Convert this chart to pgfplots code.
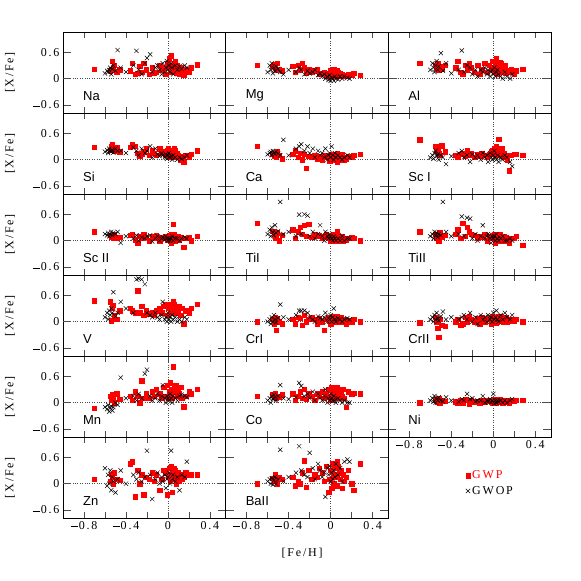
\documentclass[border=0pt]{standalone}
\usepackage{fontspec}
\setsansfont{Liberation Sans}
\newfontfamily\pg{Liberation Serif}[LetterSpace=15]
\usepackage{pgfplots}
\usepackage{pgfplotstable}
\pgfplotsset{compat=1.18}

% GWP stars (with planets)
\pgfplotstableread{
feh Na Mg Al Si Ca ScI ScII TiI TiII V CrI CrII Mn Co Ni Zn BaII
-0.70 0.22 0.30 0.35 0.28 0.30 0.45 0.20 0.40 0.20 0.48 0.00 -0.02 -0.13 0.15 0.00 0.10 0.00
-0.55 0.18 0.28 0.30 0.22 0.12 0.30 0.12 0.22 0.15 0.45 0.05 0.10 0.15 0.18 0.05 0.05 0.12
-0.54 0.22 0.32 0.25 0.30 0.08 0.25 0.08 0.15 0.05 0.02 -0.05 0.00 0.05 0.12 0.08 0.22 0.05
-0.53 0.40 0.25 0.35 0.35 0.15 0.20 0.10 0.05 0.10 0.32 0.10 -0.15 0.18 0.20 0.02 0.15 0.20
-0.52 0.25 0.20 0.20 0.25 0.05 0.15 0.05 0.10 0.00 0.38 -0.20 -0.35 0.10 0.10 0.10 0.00 0.08
-0.51 0.30 0.35 0.28 0.20 0.18 0.10 0.15 0.18 0.18 0.15 0.08 0.05 0.00 0.15 0.00 0.25 0.00
-0.49 0.15 0.22 0.22 0.28 0.10 0.32 0.06 0.00 0.08 0.05 0.00 -0.08 0.20 0.12 0.06 0.10 0.15
-0.46 0.20 0.18 0.30 0.18 0.02 0.18 0.08 0.12 0.12 0.25 -0.05 -0.10 0.08 0.18 0.04 0.08 0.10
-0.36 0.18 0.28 0.25 0.28 0.12 0.10 0.12 0.25 0.15 0.30 0.05 0.00 0.15 0.20 0.02 0.45 0.15
-0.34 0.35 0.15 0.40 0.35 0.20 0.05 0.15 0.05 0.25 0.25 -0.05 0.05 0.05 0.05 0.00 0.50 -0.05
-0.31 0.10 0.30 0.15 0.30 0.05 0.12 0.02 0.20 0.05 0.20 0.10 -0.08 0.25 0.15 0.05 -0.30 0.05
-0.29 0.12 0.20 0.10 0.15 0.15 0.15 -0.05 0.30 0.40 0.70 0.08 -0.05 0.15 0.25 0.00 0.30 0.00
-0.27 0.28 0.35 0.30 0.08 0.00 0.08 0.10 0.15 0.10 0.20 -0.08 0.10 0.00 0.10 0.08 0.00 0.25
-0.25 0.15 0.25 0.20 0.12 0.12 0.20 0.05 0.35 0.30 0.35 0.15 0.00 0.50 0.30 0.05 0.20 0.52
-0.23 0.35 0.12 0.35 0.18 -0.20 0.10 0.15 0.10 0.20 0.15 0.00 0.12 0.10 0.08 -0.02 -0.25 -0.08
-0.21 0.20 0.22 0.25 0.25 0.08 0.15 0.08 0.38 0.15 0.25 0.05 0.05 0.20 0.20 0.06 0.15 0.30
-0.18 0.10 0.15 0.15 0.10 0.05 0.05 0.00 0.08 0.12 0.18 0.10 0.00 0.10 0.15 0.02 0.10 0.10
-0.15 0.25 0.18 0.30 0.20 0.10 0.12 0.10 0.15 0.05 0.20 0.05 0.08 0.25 0.05 0.04 0.25 0.20
-0.13 0.12 0.20 0.10 0.15 0.02 0.08 0.05 0.10 0.10 0.15 -0.05 -0.05 0.15 0.20 0.00 0.05 0.15
-0.11 0.15 0.10 0.20 0.10 0.08 0.15 0.12 0.12 0.08 0.25 0.08 0.10 0.30 0.15 0.05 0.20 0.35
-0.08 0.30 0.12 0.35 0.25 0.00 0.10 0.00 0.05 0.15 0.30 0.00 0.00 0.20 0.25 0.02 -0.15 0.25
-0.06 0.20 0.15 0.15 0.15 0.10 0.05 0.08 0.10 0.00 0.20 -0.20 0.05 0.10 0.10 0.06 0.10 0.05
-0.04 0.25 0.08 0.30 0.18 0.05 0.12 0.05 0.15 0.10 0.35 0.05 0.08 0.35 0.20 0.03 0.30 0.40
-0.02 0.10 0.12 0.25 0.10 0.10 0.18 0.10 0.05 0.05 0.40 0.10 -0.05 0.15 0.30 0.05 0.25 -0.20
-0.01 0.35 0.05 0.40 0.20 -0.02 0.20 0.02 0.10 0.12 0.15 0.02 0.12 0.40 0.15 0.00 -0.25 0.10
0.00 0.28 0.18 0.20 0.25 0.08 0.15 0.05 0.00 0.08 0.30 -0.05 0.02 0.10 0.05 0.08 0.15 0.30
0.01 0.45 0.10 0.15 0.05 0.12 0.25 0.12 0.08 0.15 0.40 0.08 0.05 0.25 0.35 0.02 0.35 -0.10
0.02 0.20 0.15 0.35 0.15 0.00 0.10 0.08 0.12 -0.05 0.25 0.05 0.10 0.45 0.25 0.06 0.05 0.45
0.03 0.52 0.08 0.45 0.22 0.05 0.30 -0.05 0.05 0.10 0.35 0.12 -0.02 0.20 0.10 0.04 0.20 0.20
0.03 0.15 0.20 0.25 0.10 0.10 0.15 0.15 0.15 0.05 0.20 0.00 0.08 0.30 0.30 0.00 0.40 0.00
0.04 0.30 0.12 0.10 0.18 0.08 0.20 0.10 0.00 0.12 0.30 0.08 0.00 0.10 0.20 0.05 -0.20 0.35
0.05 0.25 0.05 0.30 0.12 0.12 0.47 0.38 0.10 0.00 0.45 0.05 0.12 0.82 0.15 0.08 0.25 0.15
0.06 0.18 0.10 0.20 0.08 -0.05 0.10 0.05 0.05 0.08 0.25 0.10 0.05 0.35 0.25 0.02 0.10 -0.05
0.07 0.40 0.15 0.35 0.20 0.10 0.12 0.00 0.12 0.10 0.35 0.00 0.10 0.25 0.30 0.06 0.30 0.40
0.08 0.12 0.08 0.15 0.05 0.05 0.25 0.08 0.00 0.05 0.20 0.08 0.02 0.40 0.10 0.04 0.00 0.25
0.09 0.30 0.12 0.25 0.15 0.00 0.08 0.05 0.08 0.00 0.30 0.05 0.08 0.15 0.20 0.00 0.15 0.10
0.10 0.22 0.05 0.20 0.10 0.08 0.15 0.10 0.05 0.10 0.25 0.10 0.00 0.30 0.25 0.05 0.25 0.30
0.11 0.10 0.10 0.30 0.05 0.12 0.05 0.02 0.10 0.05 0.35 0.00 0.05 0.20 0.15 0.03 0.05 -0.10
0.12 0.25 0.08 0.12 0.00 0.05 0.10 0.08 0.00 0.08 0.15 0.05 0.10 0.35 0.30 0.02 0.20 0.20
0.13 0.15 0.05 0.18 0.08 0.00 0.00 0.05 0.05 0.00 0.30 0.00 0.00 0.10 0.10 0.05 0.10 0.05
0.15 0.08 0.06 0.15 -0.05 0.02 -0.25 -0.15 0.02 -0.05 -0.05 -0.05 0.02 -0.09 -0.10 0.00 0.15 0.15
0.17 0.20 0.10 0.20 0.10 0.08 0.10 0.05 0.05 0.05 0.25 0.02 0.05 0.15 0.25 0.05 0.25 0.30
0.20 0.15 0.08 0.10 0.05 0.05 0.12 0.08 0.08 0.05 0.20 0.00 0.02 0.25 0.20 0.04 0.20 0.00
0.22 0.25 0.12 0.18 0.12 0.10 0.12 0.00 0.05 0.10 0.30 0.05 0.05 0.20 0.22 0.05 0.20 -0.15
0.28 0.32 0.08 0.22 0.20 0.12 0.10 0.10 0.00 -0.10 0.40 0.00 0.00 0.30 0.20 0.05 0.20 0.45
0.06 0.35 0.18 0.38 0.25 0.15 0.20 0.15 0.20 0.15 0.40 0.12 0.12 0.40 0.35 0.08 0.35 0.50
}\gwp

% GWOP stars (without planets)
\pgfplotstableread{
feh Na Mg Al Si Ca ScI ScII TiI TiII V CrI CrII Mn Co Ni Zn BaII
-0.60 0.12 0.15 0.20 0.18 0.12 0.05 0.15 0.15 0.10 0.10 0.00 0.05 -0.10 0.05 0.05 0.35 0.05
-0.58 0.18 0.30 0.35 0.22 0.15 0.10 0.12 0.25 0.15 0.20 0.05 0.10 -0.15 0.10 0.10 -0.05 0.10
-0.57 0.15 0.20 0.25 0.15 0.18 0.02 0.18 0.10 0.05 0.05 -0.05 0.00 -0.05 0.00 0.02 0.20 0.00
-0.56 0.20 0.35 0.15 0.25 0.10 0.15 0.10 0.30 0.20 0.25 0.10 0.15 -0.20 0.15 0.15 0.00 0.12
-0.55 0.25 0.12 0.30 0.20 0.20 0.20 0.15 0.20 0.12 0.15 0.00 0.05 -0.12 0.08 0.00 0.30 -0.02
-0.54 0.10 0.25 0.40 0.18 0.15 0.08 0.20 0.12 0.18 0.30 0.15 0.20 -0.08 0.18 0.08 -0.15 0.08
-0.53 0.22 0.18 0.20 0.22 0.12 0.12 0.12 0.35 0.08 0.20 0.05 0.08 -0.18 0.12 0.05 0.15 0.15
-0.52 0.30 0.28 0.28 0.16 0.18 0.00 0.18 0.18 0.15 0.67 -0.02 0.02 -0.10 0.05 0.12 0.05 0.00
-0.50 0.18 0.22 0.58 0.25 0.14 0.10 0.15 0.22 0.12 0.12 0.08 0.12 0.00 0.15 0.05 -0.20 0.10
-0.48 0.65 0.15 0.18 0.20 0.10 0.05 0.20 0.88 0.88 0.20 0.39 0.23 -0.05 0.40 0.03 0.10 0.77
-0.45 0.25 0.10 0.35 0.20 0.45 -0.10 -0.05 0.15 0.20 0.45 0.10 0.05 0.57 0.10 0.12 0.30 0.05
-0.40 0.15 0.20 0.12 0.15 0.10 0.08 0.10 0.20 0.10 0.30 0.05 0.10 0.10 0.08 0.05 0.00 0.15
-0.33 0.30 0.15 0.20 0.28 0.25 0.15 0.05 0.10 0.15 0.20 0.15 0.05 0.15 0.12 0.02 0.20 0.25
-0.30 0.63 0.25 0.64 0.20 0.30 0.20 0.12 0.59 0.55 0.96 0.25 0.10 0.05 0.45 0.08 0.10 0.85
-0.28 0.20 0.20 0.15 0.10 0.35 0.05 0.00 0.15 0.10 0.98 0.25 0.15 0.20 0.38 0.05 0.25 0.30
-0.25 0.10 0.10 0.30 0.25 0.20 0.10 0.08 0.60 0.52 0.96 0.25 0.05 0.10 0.15 0.20 0.05 0.20
-0.22 0.35 0.18 0.25 0.15 0.30 -0.05 0.05 0.57 0.50 0.85 0.20 0.20 0.66 0.20 0.08 0.15 0.15
-0.20 0.47 0.12 0.10 0.20 0.15 0.12 0.10 0.10 0.05 0.20 0.10 0.00 0.75 0.10 0.10 0.75 0.70
-0.17 0.55 0.15 0.20 0.30 0.25 0.05 0.12 0.20 0.15 0.15 0.05 0.10 0.15 0.25 0.03 0.20 0.35
-0.15 0.15 0.20 0.05 0.05 0.05 0.10 -0.02 0.05 0.00 0.10 0.00 -0.05 0.05 0.05 0.05 -0.35 0.10
-0.12 0.25 0.08 0.20 0.25 0.20 0.00 0.05 0.15 0.10 0.20 0.12 0.15 0.10 0.20 0.05 0.10 0.45
-0.10 0.30 0.12 0.15 0.12 0.10 0.15 0.10 0.35 0.35 0.10 0.08 0.05 0.20 0.10 0.15 0.25 0.30
-0.08 0.20 0.05 0.25 0.08 0.15 0.05 0.00 0.10 0.05 0.05 0.05 0.10 0.05 0.05 0.00 0.00 0.15
-0.06 0.10 0.10 0.10 0.15 0.05 0.10 0.05 0.00 0.10 0.15 0.10 0.00 0.15 0.15 0.05 0.15 0.25
-0.05 0.35 0.00 0.20 0.10 0.25 -0.05 0.08 0.20 0.15 0.45 0.20 0.15 0.40 0.30 0.02 0.05 -0.30
-0.03 0.15 0.05 0.05 0.05 0.00 0.15 0.02 0.10 0.05 0.05 0.00 0.05 0.10 0.00 0.08 0.20 0.35
-0.02 0.25 -0.03 0.15 0.12 0.10 0.05 0.10 0.05 -0.05 0.10 0.08 0.10 0.00 0.10 0.00 -0.10 0.20
-0.01 0.40 0.08 0.20 0.02 0.15 0.00 0.05 0.15 0.10 0.00 0.05 0.00 0.15 0.05 0.05 0.10 0.40
0.00 0.20 -0.05 0.10 0.10 0.05 0.10 0.00 0.10 0.05 0.20 0.15 0.20 0.10 0.20 0.20 0.15 0.05
0.01 0.30 0.02 0.25 0.15 0.30 0.20 0.05 0.05 0.10 0.05 0.00 0.05 0.05 0.10 -0.02 0.25 0.25
0.02 0.15 0.00 0.05 0.05 0.10 0.05 0.00 0.00 0.00 0.10 0.10 0.10 0.20 0.05 0.05 0.00 0.10
0.03 0.35 -0.05 0.15 0.08 0.00 0.00 0.05 0.10 0.15 0.00 0.30 0.25 0.10 0.15 0.00 0.75 0.30
0.04 0.25 0.05 0.20 0.00 0.15 0.10 0.10 0.05 0.05 0.15 0.05 0.05 0.00 0.05 0.05 0.10 0.15
0.05 0.10 0.00 0.10 0.10 0.05 -0.05 0.00 0.00 0.00 0.05 0.00 0.00 0.15 0.00 0.02 0.20 0.45
0.07 0.30 -0.02 0.05 0.05 0.10 0.05 0.05 0.05 0.05 0.10 0.08 0.15 0.10 0.10 0.05 0.05 0.20
0.09 0.20 0.05 0.00 0.00 0.05 0.00 0.05 0.00 0.10 0.00 0.05 0.05 0.05 0.05 0.00 0.15 0.35
0.11 0.28 0.00 0.15 0.05 0.00 0.10 0.00 0.10 0.00 0.05 0.00 0.20 0.15 0.00 0.05 -0.15 0.05
0.13 0.22 0.05 0.05 0.02 0.05 0.05 0.05 0.00 0.00 0.00 0.05 0.10 0.18 0.05 0.00 0.20 0.50
0.16 0.30 0.02 0.00 0.05 0.10 -0.05 0.08 0.05 0.05 0.10 0.08 0.05 0.15 0.00 0.05 0.15 0.55
0.18 0.25 0.00 0.10 0.10 0.05 -0.15 0.05 0.05 0.00 0.05 0.05 0.15 0.12 0.00 0.08 0.50 0.50
}\gwop

\newcommand{\lbl}{\pg\fontsize{12}{14}\selectfont}
\newcommand{\mi}{\rule[0.24em]{0.6em}{0.05em}\hspace{0.08em}}
\pgfplotsset{
  panel/.style={
    scale only axis, width=162.67pt, height=81pt,
    anchor=north west,
    xmin=-1.0, xmax=0.55, ymin=-0.78, ymax=1.06,
    xtick={-0.8,-0.6,-0.4,-0.2,0,0.2,0.4},
    ytick={-0.6,0,0.6},
    xticklabels={,,,,,,}, yticklabels={,,},
    tick align=inside, major tick length=6pt,
    ytick style={/pgfplots/major tick length=8pt},
    axis line style={line width=0.6pt},
    tick style={line width=0.5pt, black!70},
    tick label style={font=\lbl},
    every axis y label/.style={at={(axis description cs:-0.325,0.5)}, rotate=90, anchor=center, font=\lbl},
    every axis x label/.style={at={(axis description cs:0.47,-0.43)}, anchor=center, font=\lbl},
  },
  xlab/.style={xticklabels={\mi0.8,,\mi0.4,,0,,0.4}},
  ylab/.style={yticklabels={\mi0.6,0,0.6}, ylabel={[X/Fe]}},
  gwp/.style={only marks, mark=square*, mark size=2.2pt, color=red},
  gwop/.style={only marks, mark=x, mark size=3pt, color=black, mark options={line width=0.5pt}},
}
\newcommand{\panel}[1]{%
  \draw[dotted, black!70] (axis cs:0,-0.78) -- (axis cs:0,1.06);
  \draw[dotted, black!70] (axis cs:-1,0) -- (axis cs:0.55,0);
  \addplot[gwp] table[x=feh, y=#1] {\gwp};
  \addplot[gwop] table[x=feh, y=#1] {\gwop};
}
\newcommand{\elem}[1]{\node[anchor=west, inner sep=0pt, font=\sffamily\fontsize{13}{15}\selectfont] at (axis cs:-0.81,-0.39) {#1};}

\begin{document}
\begin{tikzpicture}
\path[use as bounding box] (0pt,0pt) rectangle (581pt,-581pt);

% row 1
\begin{axis}[panel, ylab, at={(63pt,-32pt)}]
\panel{Na}\elem{Na}
\end{axis}
\begin{axis}[panel, at={(225.67pt,-32pt)}]
\panel{Mg}\elem{Mg}
\end{axis}
\begin{axis}[panel, at={(388.33pt,-32pt)}]
\panel{Al}\elem{Al}
\end{axis}

% row 2
\begin{axis}[panel, ylab, at={(63pt,-113pt)}]
\panel{Si}\elem{Si}
\end{axis}
\begin{axis}[panel, at={(225.67pt,-113pt)}]
\panel{Ca}\elem{Ca}
\end{axis}
\begin{axis}[panel, at={(388.33pt,-113pt)}]
\panel{ScI}\elem{Sc I}
\end{axis}

% row 3
\begin{axis}[panel, ylab, at={(63pt,-194pt)}]
\panel{ScII}\elem{Sc II}
\end{axis}
\begin{axis}[panel, at={(225.67pt,-194pt)}]
\panel{TiI}\elem{TiI}
\end{axis}
\begin{axis}[panel, at={(388.33pt,-194pt)}]
\panel{TiII}\elem{TiII}
\end{axis}

% row 4
\begin{axis}[panel, ylab, at={(63pt,-275pt)}]
\panel{V}\elem{V}
\end{axis}
\begin{axis}[panel, at={(225.67pt,-275pt)}]
\panel{CrI}\elem{CrI}
\end{axis}
\begin{axis}[panel, at={(388.33pt,-275pt)}]
\panel{CrII}\elem{CrII}
\end{axis}

% row 5
\begin{axis}[panel, ylab, at={(63pt,-356pt)}]
\panel{Mn}\elem{Mn}
\end{axis}
\begin{axis}[panel, at={(225.67pt,-356pt)}]
\panel{Co}\elem{Co}
\end{axis}
\begin{axis}[panel, xlab, at={(388.33pt,-356pt)},
  legend style={at={(axis description cs:0.475,-0.39)}, anchor=north west,
    draw=none, fill=none, font=\lbl, row sep=2pt, inner sep=0pt},
  legend cell align=left]
\panel{Ni}\elem{Ni}
\addlegendentry[text=red]{GWP}
\addlegendentry{GWOP}
\end{axis}

% row 6
\begin{axis}[panel, ylab, xlab, at={(63pt,-437pt)}]
\panel{Zn}\elem{Zn}
\end{axis}
\begin{axis}[panel, xlab, xlabel={[Fe/H]}, at={(225.67pt,-437pt)}]
\panel{BaII}\elem{BaII}
\end{axis}
\end{tikzpicture}
\end{document}
